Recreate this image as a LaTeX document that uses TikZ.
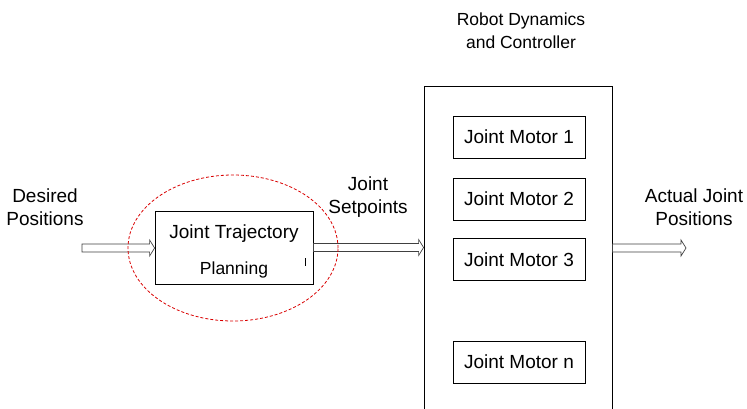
\documentclass[tikz,border=0pt]{standalone}
\usepackage{fontspec}
\setmainfont{Liberation Sans}
\usetikzlibrary{arrows.meta,positioning,shapes.geometric,calc}
\tikzset{
	blk/.style={draw,line width=0.8pt,align=center,font=\fontsize{19}{22}\selectfont},
	lbl/.style={align=center,font=\fontsize{19}{23}\selectfont},
	hollow/.style={draw=black!75,line width=0.7pt,fill=white,
		to path={let \p1=(\tikztostart),\p2=(\tikztotarget) in
			(\x1,\y1+4pt)--(\x2-5pt,\y1+4pt)--(\x2-5pt,\y1+8pt)--(\x2,\y1)--(\x2-5pt,\y1-8pt)--(\x2-5pt,\y1-4pt)--(\x1,\y1-4pt)--cycle}}
}
\begin{document}
\begin{tikzpicture}[x=1pt,y=-1pt]
			\useasboundingbox(0,0) rectangle (747,409);
			\node[blk,minimum width=158,minimum height=73](traj) at(234,247.5){};
			\node[lbl](trajtxt) at(234,251.5){Joint Trajectory\\[13pt]{\fontsize{17.5}{21}\selectfont Planning}};
			\node[blk,minimum width=188,minimum height=344](robot) at(518,258){};
			\node[blk,minimum width=132,minimum height=42](m1) at(519,137){Joint Motor 1};
			\node[blk,minimum width=132,minimum height=42](m2) at(519,199){Joint Motor 2};
			\node[blk,minimum width=132,minimum height=42](m3) at(519,259.5){Joint Motor 3};
			\node[blk,minimum width=132,minimum height=42](mn) at(519,362){Joint Motor n};
			\node[lbl](desired) at(45,207){Desired\\Positions};
			\node[lbl](setpts) at(368,197){Joint\\Setpoints};
			\node[lbl](actual) at(694,207){Actual Joint\\Positions};
			\node[lbl,font=\fontsize{17.5}{23}\selectfont](title) at(521,31){Robot Dynamics\\and Controller};
			\coordinate(in) at(82,248);
			\coordinate(out) at(686,248);
			\draw[hollow](in) to (traj.west);
			\draw[hollow](traj.east) to (traj.east -| robot.west);
			\draw[hollow](robot.east |- out) to (out);
			\draw[line width=0.6pt](305,258)--(305,266);
			% ring round the planning block
			\node[draw,red!85!black,dash pattern=on 3pt off 2pt,line width=0.8pt,ellipse,minimum width=210,minimum height=146](ring) at(233,248){};
\end{tikzpicture}
\end{document}
